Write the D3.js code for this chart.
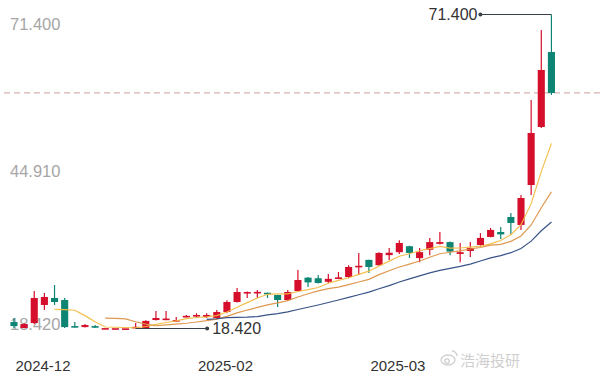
<!DOCTYPE html>
<html><head><meta charset="utf-8">
<script src="https://cdn.jsdelivr.net/npm/d3@7"></script>
<style>html,body{margin:0;padding:0;background:#fff;}svg{display:block;}</style>
</head><body>
<svg id="chart" width="600" height="377"></svg>
<script>
// ---- data ----
const openV  = [19.51,18.50,19.34,22.39,23.57,23.23,18.83,18.66,18.83,18.49,18.47,18.45,18.45,18.50,19.85,19.85,19.70,20.45,20.50,20.36,20.19,21.20,22.89,24.41,24.50,24.45,24.07,23.23,24.75,27.00,26.90,26.30,26.80,27.10,28.80,30.00,29.10,30.80,31.30,32.30,30.30,31.70,32.70,33.00,31.00,31.50,32.50,33.87,34.70,37.24,35.89,42.63,52.42,65.07];
const highV  = [20.19,19.30,24.75,24.41,25.76,23.57,19.51,19.17,19.00,18.49,18.47,18.45,19.34,19.80,21.37,21.37,20.36,20.70,21.00,21.00,21.54,23.20,25.26,24.65,24.92,24.50,24.10,24.92,28.29,27.10,27.45,27.60,27.95,29.10,31.17,30.00,31.30,32.00,33.30,32.40,32.00,33.70,34.70,33.10,32.85,33.00,34.50,35.40,35.55,37.91,40.95,56.97,68.78,71.40];
const lowV   = [18.49,18.45,19.17,21.54,22.39,18.49,18.58,18.58,18.49,18.49,18.47,18.45,18.42,18.50,19.78,19.80,19.50,20.30,20.30,20.20,20.00,21.00,22.80,23.57,23.57,23.57,22.05,23.10,24.60,25.42,26.00,26.10,26.75,26.90,27.45,27.80,29.00,29.98,31.00,30.32,29.60,30.80,32.60,30.80,29.60,30.50,32.40,33.80,33.50,34.37,35.05,40.95,52.25,57.82];
const closeV = [18.83,19.17,23.57,23.74,22.89,18.66,18.66,19.00,18.55,18.49,18.47,18.45,18.70,19.70,20.19,20.10,19.85,20.55,20.70,20.70,21.20,22.89,24.58,24.58,24.60,24.30,23.23,24.58,26.60,26.20,26.10,26.80,27.05,28.80,29.00,28.80,31.17,31.20,32.85,31.17,31.30,33.00,33.00,31.40,31.30,32.00,33.70,35.05,34.30,36.23,40.44,51.41,62.04,58.16];
const xTickLabels = ["2024-12","2025-02","2025-03"];
const xTickIndex  = [0, 18, 35];
const yTickValues = [71.4, 44.91, 18.42];
const maPeriods = [5, 10, 20];
const maColors  = ["#f3bd45", "#dc9448", "#2e4a82"];
const watermark = "浩海投研";

// ---- build ----
const n = closeV.length;
const data = d3.range(n).map(i => ({i, o: openV[i], h: highV[i], l: lowV[i], c: closeV[i]}));
const svg = d3.select("#chart");
const W = 600, H = 377;
svg.append("rect").attr("width", W).attr("height", H).attr("fill", "#fff");

const yMin = d3.min(lowV), yMax = d3.max(highV);
const x = d3.scaleBand().domain(d3.range(n)).range([8.9, 556.5]).paddingInner(0.3).paddingOuter(0.15);
const y = d3.scaleLinear().domain([yMin, yMax]).range([328.5, 14.5]);
const cx = i => x(i) + x.bandwidth() / 2;

const RED = "#d50f2b", GREEN = "#0e8573";
const col = d => d.c >= d.o ? RED : GREEN;

// y labels
const yDy = ["0.95em", "0.35em", "0.1em"];
svg.append("g").selectAll("text").data(yTickValues).join("text")
  .attr("x", 10).attr("y", d => y(d)).attr("dy", (d, k) => yDy[k])
  .attr("font-family", "Liberation Sans, Arial, sans-serif").attr("font-size", 16.5)
  .attr("fill", "#a6a6a6").text(d => d3.format(".3f")(d));

// last close dashed line
const last = data[n - 1];
svg.append("line").attr("x1", 4).attr("x2", 600).attr("y1", y(last.c)).attr("y2", y(last.c))
  .attr("stroke", "#d6b2ae").attr("stroke-width", 1.2).attr("stroke-dasharray", "6,4");

// candles
const g = svg.append("g");
g.selectAll("line.wick").data(data).join("line").attr("class", "wick")
  .attr("x1", d => cx(d.i)).attr("x2", d => cx(d.i))
  .attr("y1", d => y(d.h)).attr("y2", d => y(d.l))
  .attr("stroke", col).attr("stroke-width", 1.2);
g.selectAll("rect.body").data(data).join("rect").attr("class", "body")
  .attr("x", d => x(d.i)).attr("width", x.bandwidth())
  .attr("y", d => y(Math.max(d.o, d.c)))
  .attr("height", d => Math.max(1.6, Math.abs(y(d.o) - y(d.c))))
  .attr("fill", col);

// moving averages
maPeriods.forEach((p, k) => {
  const pts = data.filter(d => d.i >= p - 1).map(d => ({i: d.i, v: d3.mean(closeV.slice(d.i - p + 1, d.i + 1))}));
  svg.append("path").datum(pts)
    .attr("d", d3.line().x(d => cx(d.i)).y(d => y(d.v)))
    .attr("fill", "none").attr("stroke", maColors[k]).attr("stroke-width", 1.2).attr("opacity", 0.95);
});

// max marker
const iMax = d3.maxIndex(highV), iMin = d3.minIndex(lowV);
const markFont = "Liberation Sans, Arial, sans-serif";
const maxDotX = cx(iMax) - 71;
svg.append("line").attr("x1", maxDotX).attr("x2", cx(iMax)).attr("y1", y(yMax)).attr("y2", y(yMax))
  .attr("stroke", "#3a4048").attr("stroke-width", 1.2);
svg.append("circle").attr("cx", maxDotX).attr("cy", y(yMax)).attr("r", 2).attr("fill", "#3a4048");
svg.append("text").attr("x", maxDotX - 3).attr("y", y(yMax)).attr("dy", "0.35em").attr("text-anchor", "end")
  .attr("font-family", markFont).attr("font-size", 16).attr("fill", "#333").text(d3.format(".3f")(yMax));

// min marker
const minDotX = cx(iMin) + 71.5;
svg.append("line").attr("x1", cx(iMin)).attr("x2", minDotX).attr("y1", y(yMin)).attr("y2", y(yMin))
  .attr("stroke", "#3a4048").attr("stroke-width", 1.2);
svg.append("circle").attr("cx", minDotX).attr("cy", y(yMin)).attr("r", 2).attr("fill", "#3a4048");
svg.append("text").attr("x", minDotX + 5).attr("y", y(yMin)).attr("dy", "0.35em")
  .attr("font-family", markFont).attr("font-size", 16).attr("fill", "#333").text(d3.format(".3f")(yMin));

// x labels
svg.append("g").selectAll("text").data(xTickLabels).join("text")
  .attr("x", (d, k) => cx(xTickIndex[k]) + 1.5).attr("y", 371)
  .attr("font-family", "Liberation Sans, Arial, sans-serif").attr("font-size", 15)
  .attr("fill", "#333").text(d => d);

// watermark
const wm = svg.append("g").attr("fill", "none").attr("stroke", "#cfcfcf").attr("stroke-width", 1.3);
wm.append("ellipse").attr("cx", 448).attr("cy", 360).attr("rx", 7).attr("ry", 5);
wm.append("circle").attr("cx", 447).attr("cy", 361).attr("r", 2.2);
wm.append("path").attr("d", "M452,351 a5,5 0 0 1 5,5");
svg.append("text").attr("x", 460).attr("y", 366)
  .attr("font-family", "Noto Sans CJK SC, sans-serif").attr("font-size", 15)
  .attr("fill", "#cfcfcf").text(watermark);
</script>
</body></html>
